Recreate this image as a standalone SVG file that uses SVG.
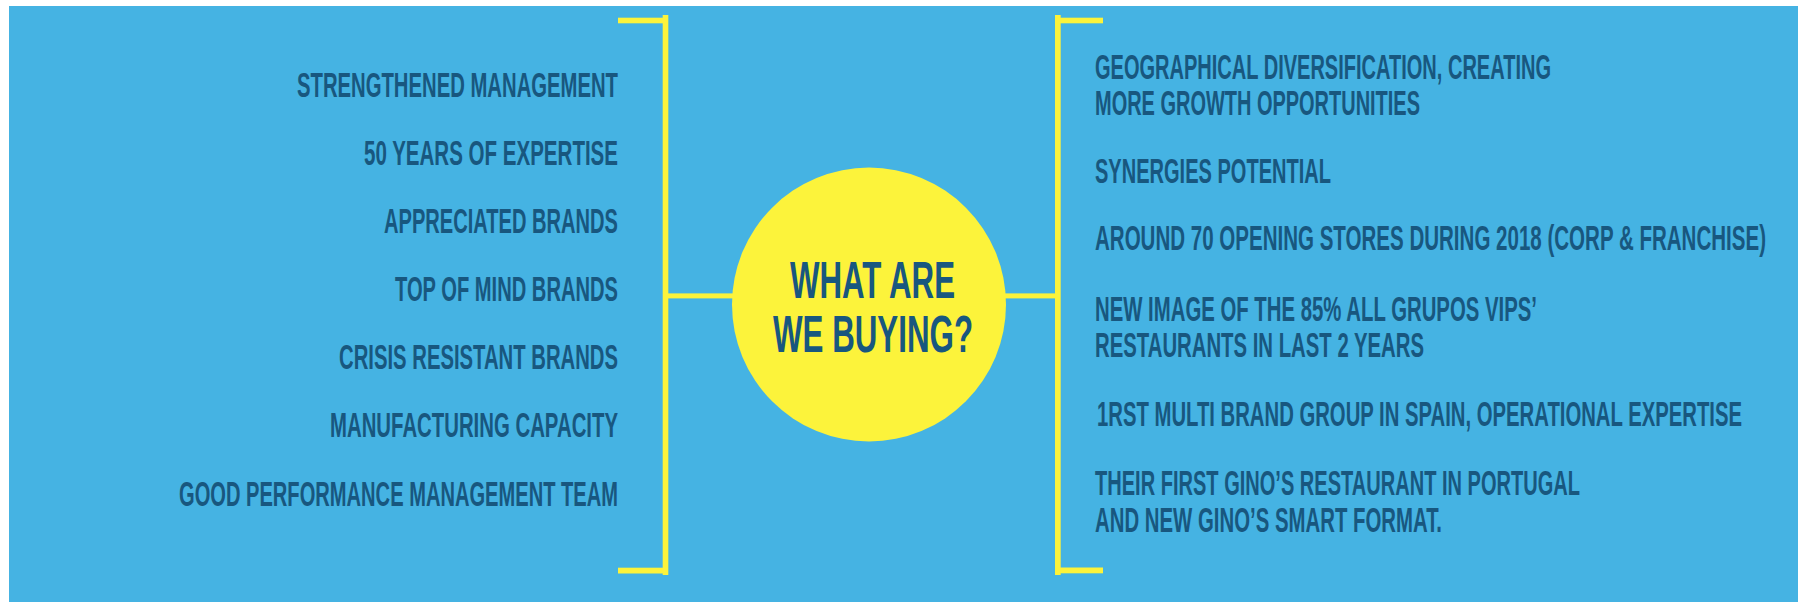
<svg xmlns="http://www.w3.org/2000/svg" width="1798" height="602" viewBox="0 0 1798 602">
  <style>
    .bg { fill: #45B3E3; }
    .ln { fill: #FCF33B; }
    .hub { fill: #FCF33B; }
    .t { font-family: "Liberation Sans Narrow", "Liberation Sans", Arial, sans-serif; font-weight: bold; font-size: 19px; fill: #18577F; }
    .l { text-anchor: end; }
    .r { text-anchor: start; }
    .c { font-size: 26px; text-anchor: middle; }
  </style>
  <rect x="0" y="0" width="1798" height="602" fill="#FFFFFF"/>
  <rect class="bg" x="9" y="6" width="1789" height="596"/>

  <g id="connectors">
    <!-- left bracket -->
    <rect class="ln" x="662.7" y="15" width="5.6" height="560"/>
    <rect class="ln" x="618" y="17.7" width="50" height="5.6"/>
    <rect class="ln" x="618" y="567.7" width="50" height="5.8"/>
    <!-- right bracket -->
    <rect class="ln" x="1055" y="15" width="5.7" height="560"/>
    <rect class="ln" x="1055" y="17.7" width="48" height="5.6"/>
    <rect class="ln" x="1055" y="567.5" width="48" height="5.8"/>
    <!-- links to hub -->
    <rect class="ln" x="668" y="293.4" width="70" height="5"/>
    <rect class="ln" x="1000" y="293.4" width="56" height="5"/>
  </g>

  <g id="hub">
    <circle class="hub" cx="869" cy="304.5" r="137"/>
    <text class="t c" transform="translate(872.5,298) scale(1,1.99)" textLength="165" lengthAdjust="spacingAndGlyphs">WHAT ARE</text>
    <text class="t c" transform="translate(873,352) scale(1,1.99)" textLength="200" lengthAdjust="spacingAndGlyphs">WE BUYING?</text>
  </g>

  <g id="left-strengthened">
    <text class="t l" transform="translate(618,96.5) scale(1,1.87)" textLength="321" lengthAdjust="spacingAndGlyphs">STRENGTHENED MANAGEMENT</text>
  </g>
  <g id="left-expertise">
    <text class="t l" transform="translate(618,164.8) scale(1,1.87)" textLength="254" lengthAdjust="spacingAndGlyphs">50 YEARS OF EXPERTISE</text>
  </g>
  <g id="left-appreciated">
    <text class="t l" transform="translate(618,233) scale(1,1.87)" textLength="234" lengthAdjust="spacingAndGlyphs">APPRECIATED BRANDS</text>
  </g>
  <g id="left-topofmind">
    <text class="t l" transform="translate(618,300.8) scale(1,1.87)" textLength="223" lengthAdjust="spacingAndGlyphs">TOP OF MIND BRANDS</text>
  </g>
  <g id="left-crisis">
    <text class="t l" transform="translate(618,369) scale(1,1.87)" textLength="279" lengthAdjust="spacingAndGlyphs">CRISIS RESISTANT BRANDS</text>
  </g>
  <g id="left-manufacturing">
    <text class="t l" transform="translate(618,437) scale(1,1.87)" textLength="288" lengthAdjust="spacingAndGlyphs">MANUFACTURING CAPACITY</text>
  </g>
  <g id="left-team">
    <text class="t l" transform="translate(618,505.5) scale(1,1.87)" textLength="439" lengthAdjust="spacingAndGlyphs">GOOD PERFORMANCE MANAGEMENT TEAM</text>
  </g>

  <g id="right-geo">
    <text class="t r" transform="translate(1095,79) scale(1,1.87)" textLength="456" lengthAdjust="spacingAndGlyphs">GEOGRAPHICAL DIVERSIFICATION, CREATING</text>
    <text class="t r" transform="translate(1095,115) scale(1,1.87)" textLength="325" lengthAdjust="spacingAndGlyphs">MORE GROWTH OPPORTUNITIES</text>
  </g>
  <g id="right-synergies">
    <text class="t r" transform="translate(1095,182.7) scale(1,1.87)" textLength="236" lengthAdjust="spacingAndGlyphs">SYNERGIES POTENTIAL</text>
  </g>
  <g id="right-openings">
    <text class="t r" transform="translate(1095,250) scale(1,1.87)" textLength="671" lengthAdjust="spacingAndGlyphs">AROUND 70 OPENING STORES DURING 2018 (CORP &amp; FRANCHISE)</text>
  </g>
  <g id="right-image">
    <text class="t r" transform="translate(1095,320.5) scale(1,1.87)" textLength="442" lengthAdjust="spacingAndGlyphs">NEW IMAGE OF THE 85% ALL GRUPOS VIPS’</text>
    <text class="t r" transform="translate(1095,357.3) scale(1,1.87)" textLength="329" lengthAdjust="spacingAndGlyphs">RESTAURANTS IN LAST 2 YEARS</text>
  </g>
  <g id="right-multibrand">
    <text class="t r" transform="translate(1097,426) scale(1,1.87)" textLength="645" lengthAdjust="spacingAndGlyphs">1RST MULTI BRAND GROUP IN SPAIN, OPERATIONAL EXPERTISE</text>
  </g>
  <g id="right-ginos">
    <text class="t r" transform="translate(1095,495) scale(1,1.87)" textLength="485" lengthAdjust="spacingAndGlyphs">THEIR FIRST GINO’S RESTAURANT IN PORTUGAL</text>
    <text class="t r" transform="translate(1095,532) scale(1,1.87)" textLength="347" lengthAdjust="spacingAndGlyphs">AND NEW GINO’S SMART FORMAT.</text>
  </g>
</svg>
